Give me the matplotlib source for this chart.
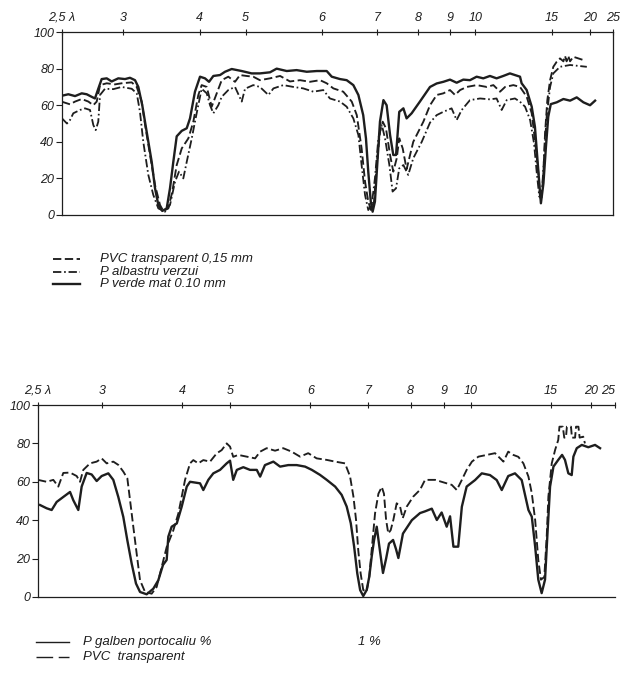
import matplotlib.pyplot as plt
import numpy as np
from matplotlib.lines import Line2D

# IR spectra: wavenumber (cm-1) and transmission (%)
top_nu_pvc = [4000, 3913, 3858, 3785, 3713, 3659, 3622, 3586, 3513, 3423, 3350, 3241, 3186, 3132, 3096,
              3042, 2987, 2933, 2897, 2842, 2799, 2751, 2696, 2624, 2570, 2516, 2479, 2424, 2370, 2315,
              2261, 2189, 2116, 2062, 1996, 1967, 1938, 1894, 1850, 1807, 1763, 1720, 1676, 1647, 1618,
              1575, 1538, 1516, 1495, 1480, 1466, 1454, 1441, 1429, 1415, 1403, 1389, 1371, 1357, 1342,
              1331, 1316, 1299, 1270, 1226, 1197, 1168, 1139, 1110, 1088, 1066, 1037, 994, 950, 921,
              892, 870, 834, 805, 776, 754, 740, 725, 718, 712, 703, 696, 686, 674, 660,
              645, 631, 616, 609, 602, 595, 587, 573, 551, 529]
top_t_pvc = [61.9, 60.5, 62, 63.4, 62, 60, 62, 71, 72, 71.4, 72, 72.5, 70, 62, 49.5,
             33, 16.4, 5.5, 2.2, 3.6, 12.8, 27.3, 36.4, 41.9, 51, 65.5, 71, 70, 59.2, 66.5,
             73.7, 75.6, 72.8, 76.5, 76, 75.6, 73.7, 74.7, 76, 73, 73.7, 72.8, 73.7, 72, 69.2,
             67.4, 62, 54.6, 36.4, 18.2, 7.3, 2.7, 7.3, 27.3, 45.5, 51, 47.4, 32.8, 23.7, 31,
             41.9, 36.4, 25, 40, 51, 60, 65.6, 66.5, 68.3, 65.6, 68.3, 70, 71, 70, 71,
             67.4, 70, 71, 70, 64.7, 55.6, 41, 23, 10, 8.2, 23, 44.6, 62.8, 73.7, 81,
             83.8, 85.6, 84, 87, 84, 87, 84, 86.5, 85.6, 84.7]

top_nu_blue = [4000, 3946, 3913, 3877, 3804, 3750, 3695, 3659, 3633, 3605, 3586, 3532, 3441, 3350, 3241,
               3186, 3151, 3115, 3060, 3006, 2951, 2878, 2824, 2769, 2726, 2679, 2642, 2587, 2552, 2516,
               2479, 2424, 2388, 2352, 2298, 2261, 2189, 2116, 2043, 2007, 1967, 1938, 1901, 1879, 1836,
               1792, 1749, 1705, 1662, 1633, 1589, 1560, 1531, 1509, 1495, 1480, 1466, 1451, 1437, 1422,
               1407, 1393, 1374, 1360, 1345, 1331, 1313, 1292, 1270, 1233, 1197, 1168, 1139, 1103, 1081,
               1059, 1023, 979, 936, 907, 885, 863, 827, 805, 783, 761, 744, 732, 721, 710,
               700, 689, 674, 660, 631, 587, 514]
top_t_blue = [52.8, 50, 51.9, 55.6, 57.4, 58.3, 57.4, 49.2, 46.4, 51, 65.6, 69, 68.8, 70, 69,
              66.5, 56.4, 40, 21.9, 11, 3.6, 1.8, 5.5, 18.2, 23.7, 20, 29, 41.9, 51, 60,
              69, 66.5, 60, 55.6, 60, 64.6, 68.3, 70, 62, 69, 71, 70, 65.6, 69.2, 71,
              70, 69.2, 67.4, 68.3, 63.7, 62, 59.2, 52.8, 43.7, 27.3, 10.9, 2.7, 5.5, 20, 41.9,
              49.2, 41.9, 27.3, 12.8, 14.6, 25.5, 27.3, 21.9, 31, 40, 50.5, 54.6, 56.4, 58.3, 51.9,
              57.4, 62.8, 63.7, 63.2, 63.7, 57.4, 62.8, 63.7, 61.9, 59.2, 51.9, 39.2, 23, 10, 11.8,
              31.9, 53.7, 70, 77.4, 81, 82, 81]

top_nu_green = [4000, 3931, 3858, 3785, 3731, 3677, 3641, 3605, 3568, 3513, 3459, 3387, 3314, 3260, 3205,
                3169, 3126, 3078, 3023, 2987, 2951, 2908, 2860, 2824, 2788, 2751, 2696, 2642, 2606, 2552,
                2497, 2443, 2399, 2352, 2279, 2225, 2152, 2043, 1974, 1938, 1894, 1865, 1821, 1778, 1734,
                1690, 1647, 1625, 1589, 1560, 1531, 1509, 1488, 1476, 1466, 1455, 1447, 1437, 1427, 1415,
                1400, 1386, 1371, 1357, 1345, 1331, 1313, 1299, 1277, 1241, 1197, 1168, 1139, 1110, 1081,
                1052, 1023, 994, 965, 936, 907, 878, 849, 827, 805, 798, 776, 754, 740, 730,
                721, 714, 703, 692, 682, 671, 645, 616, 587, 558, 529, 500, 478]
top_t_green = [65.2, 66, 65, 66.5, 66, 64.6, 63.7, 69, 74.3, 74.7, 73, 74.7, 74.3, 75, 73.7,
               70, 60, 45.5, 29, 14.6, 5.5, 2.2, 3.6, 14.6, 29, 43, 46, 47.4, 52.8, 67.4,
               75.6, 74.7, 72.8, 76, 76.5, 78.3, 79.8, 78.7, 77.4, 77.4, 78, 80, 78.7, 79.2, 78.3,
               78.7, 78.7, 75.6, 74.3, 73.7, 71, 65.6, 54.6, 41.9, 23.7, 7.3, 1.8, 7.3, 27.3, 51,
               62.8, 60, 43.7, 32.8, 32.8, 56.4, 58.3, 52.8, 55.6, 62, 70, 71.9, 72.8, 74, 72.3,
               74, 73.7, 75.6, 74.7, 76, 74.7, 76, 77.4, 76.5, 75.6, 72, 68.3, 59.2, 48.2, 31.9,
               17.3, 6.4, 17.3, 37.4, 53.7, 60.6, 61.6, 63.4, 62.5, 64.3, 61.6, 60, 62.5]

bot_nu_yellow = [3979, 3910, 3858, 3806, 3737, 3667, 3633, 3581, 3546, 3494, 3442, 3390, 3338, 3269, 3217,
                 3165, 3113, 3071, 3026, 2981, 2939, 2870, 2801, 2749, 2700, 2662, 2645, 2610, 2557, 2506,
                 2453, 2419, 2315, 2281, 2229, 2177, 2107, 2038, 2003, 1988, 1973, 1946, 1918, 1890, 1876,
                 1856, 1821, 1793, 1759, 1724, 1689, 1661, 1627, 1599, 1564, 1537, 1516, 1499, 1485, 1472,
                 1460, 1447, 1433, 1422, 1412, 1402, 1391, 1380, 1365, 1352, 1340, 1323, 1311, 1301, 1282,
                 1245, 1211, 1190, 1162, 1141, 1121, 1100, 1086, 1072, 1052, 1037, 1017, 982, 954, 920,
                 892, 871, 844, 816, 788, 760, 746, 732, 719, 705, 691, 680, 670, 656, 636,
                 620, 608, 594, 580, 573, 559, 538, 511, 483, 462]
bot_t_yellow = [47.9, 46.2, 45.3, 49.5, 52.1, 54.7, 50.4, 45.3, 57.5, 64.6, 63.8, 60.4, 63, 64.4, 61,
                52.1, 41.7, 29.5, 17.4, 7, 2.6, 1.4, 4.3, 8.7, 16.7, 19.3, 31.4, 36.6, 38.3, 47,
                57.5, 60, 59.2, 55.7, 61, 64.4, 66.2, 69.6, 71, 61, 66.2, 67.6, 66.2, 66.2, 62.7,
                68.7, 70.5, 67.9, 68.7, 68.7, 67.9, 66.2, 63.6, 61, 57.5, 53.2, 47.1, 38.4, 26.2, 12.3,
                3.6, 0.5, 3.6, 10.6, 21, 29.7, 36.6, 26.2, 12.5, 20, 27.8, 29.7, 25, 20.3, 33,
                40, 43.7, 44.6, 46, 40.1, 44, 36.6, 42, 26.2, 26.2, 47, 57.5, 60.9, 64.4, 63.5,
                60.9, 55.7, 63, 64.4, 60.9, 45.3, 41.8, 26.2, 9, 2, 9, 34.9, 57.5, 67.9, 71.4,
                74, 71.4, 64.4, 63.5, 73.1, 77.5, 79.2, 78, 79.2, 77.5]

bot_nu_pvc = [4000, 3910, 3841, 3789, 3737, 3667, 3598, 3563, 3529, 3459, 3390, 3338, 3286, 3217, 3165,
              3113, 3071, 3043, 3009, 2974, 2939, 2887, 2818, 2766, 2714, 2662, 2593, 2541, 2506, 2471,
              2419, 2385, 2333, 2281, 2211, 2142, 2090, 2038, 2003, 1988, 1967, 1932, 1897, 1876, 1849,
              1814, 1780, 1745, 1710, 1676, 1641, 1599, 1564, 1523, 1502, 1488, 1477, 1468, 1458, 1447,
              1433, 1422, 1412, 1398, 1384, 1370, 1361, 1352, 1343, 1333, 1322, 1308, 1294, 1283, 1266,
              1239, 1211, 1190, 1148, 1079, 1058, 1037, 1017, 995, 968, 933, 899, 864, 844, 823,
              802, 781, 760, 746, 732, 719, 708, 694, 684, 677, 663, 649, 636, 631, 617,
              611, 604, 600, 583, 579, 566, 562, 552, 547, 532, 525]
bot_t_pvc = [61, 60, 61, 57.5, 64.6, 64.8, 63, 60, 66.2, 69.6, 70.5, 72.2, 69.6, 70.5, 68.8,
             65.3, 61.8, 50.5, 36.6, 22.6, 8.7, 2.6, 1.7, 5.2, 15.6, 26, 34.7, 43.4, 52.1, 61,
             69.6, 71.3, 69.6, 71.3, 70.5, 74.8, 76.5, 80, 78.3, 73, 74, 73.1, 72.2, 75.7, 77.5,
             76.2, 77.5, 75.7, 73.1, 74.9, 72.2, 71.4, 70.5, 69.6, 62.8, 52.3, 40.1, 24.5, 12.3, 3.6,
             2.8, 10.6, 24.5, 43.6, 53.8, 57.3, 53.8, 40.1, 33.1, 34.8, 40.1, 48.8, 47.1, 41, 47.1,
             52.3, 55.8, 61, 61, 58.4, 55.7, 61, 66.2, 70.5, 73.1, 74, 74.9, 70.5, 75.7, 74,
             73, 69.6, 62.7, 54, 40.1, 19.3, 9, 10.4, 31.3, 52.3, 69.6, 76.6, 81.8, 88.7, 88.7,
             83, 83, 88.7, 88.7, 83, 83, 88.7, 88.7, 83, 83.5, 80]

wl_ticks = [2.5, 3, 4, 5, 6, 7, 8, 9, 10, 15, 20, 25]
wl_labels = ['2,5 λ', '3', '4', '5', '6', '7', '8', '9', '10', '15', '20', '25']
t_ticks = [0, 20, 40, 60, 80, 100]

ink = '#1e1e1e'
plt.rcParams['font.family'] = ['Liberation Sans', 'DejaVu Sans']
plt.rcParams['lines.scale_dashes'] = False

dashed = dict(color=ink, lw=1.35, dashes=(6, 2.5))
dashdot = dict(color=ink, lw=1.3, dashes=(6, 2, 1.2, 2))
solid = dict(color=ink, lw=1.7)


# the spectrometer chart is linear in wavenumber, with 2.5x expansion below 2000 cm-1
def to_pos(lam):
    nu = 1e4 / np.maximum(lam, 1e-6)
    return np.where(nu >= 2000, 4000 - nu, 2000 + (2000 - nu) * 2.5)


def from_pos(p):
    nu = np.where(p <= 2000, 4000 - p, 2000 - (p - 2000) / 2.5)
    return 1e4 / np.maximum(nu, 1e-3)


def setup(ax, right=True):
    ax.set_xscale('function', functions=(to_pos, from_pos))
    ax.set_xlim(2.5, 25)
    ax.set_ylim(0, 100)
    ax.xaxis.set_ticks_position('top')
    ax.set_xticks(wl_ticks, wl_labels)
    ax.minorticks_off()
    ax.set_yticks(t_ticks, [str(v) for v in t_ticks])
    ax.tick_params(axis='x', direction='inout', length=5, width=0.8, pad=3.5,
                   labelsize=9, colors=ink)
    ax.tick_params(axis='y', direction='out', length=4, width=0.8, pad=1.5,
                   labelsize=9, colors=ink)
    for lab in ax.get_xticklabels() + ax.get_yticklabels():
        lab.set_style('italic')
    for s in ax.spines.values():
        s.set_linewidth(0.9)
        s.set_color(ink)
    ax.spines['right'].set_visible(right)


def legend_rows(rows, x0, x1, xt, ys, size):
    for (style, label), y in zip(rows, ys):
        fy = 1 - y / 675
        fig.add_artist(Line2D([x0 / 620, x1 / 620], [fy, fy], transform=fig.transFigure, **style))
        fig.text(xt / 620, fy, label, va='center', ha='left', style='italic', size=size, color=ink)


fig = plt.figure(figsize=(6.2, 6.75), dpi=100)

ax1 = fig.add_axes([0.1, 0.6815, 0.8887, 0.271])
setup(ax1)
ax1.plot(1e4 / np.array(top_nu_pvc), top_t_pvc, **dashed)
ax1.plot(1e4 / np.array(top_nu_blue), top_t_blue, **dashdot)
ax1.plot(1e4 / np.array(top_nu_green), top_t_green, **solid)

legend_rows([(dashed, 'PVC transparent 0,15 mm'),
             (dashdot, 'P albastru verzui'),
             (solid, 'P verde mat 0.10 mm')],
            53, 80, 100, [259, 272, 284], 9.5)

ax2 = fig.add_axes([0.0613, 0.1156, 0.9306, 0.2844])
setup(ax2, right=False)
ax2.get_xticklabels()[-1].set_horizontalalignment('right')
ax2.plot(1e4 / np.array(bot_nu_yellow), bot_t_yellow, **solid)
ax2.plot(1e4 / np.array(bot_nu_pvc), bot_t_pvc, **dashed)

legend_rows([(dict(color=ink, lw=1.0), 'P galben portocaliu %'),
             (dict(color=ink, lw=1.0, dashes=(12, 4)), 'PVC  transparent')],
            36, 69, 83, [642, 657], 9.5)
fig.text(358 / 620, 1 - 642 / 675, '1 %', va='center', ha='left', style='italic', size=9.5, color=ink)

fig.savefig('out.png', dpi=100, facecolor='white')
